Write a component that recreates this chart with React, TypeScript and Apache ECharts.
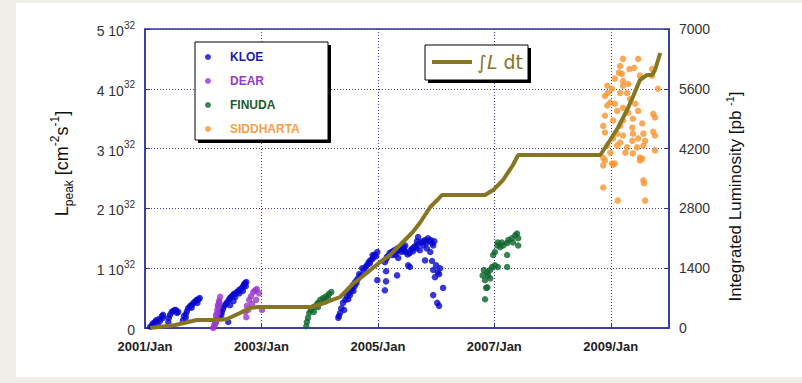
import React, { useEffect, useRef } from "react";
import * as echarts from "echarts";

// ---------- data ----------
const T0 = 2001; // x axis origin (year)
const xTickYears = [2001, 2003, 2005, 2007, 2009];
const leftTicks = [0, 1, 2, 3, 4, 5]; // units of 10^32 cm^-2 s^-1
const rightTicks = [0, 1400, 2800, 4200, 5600, 7000]; // pb^-1

// [decimal year, peak luminosity in 10^32]
const kloe: [number, number][] = [
  [2001.09, 0.02], [2001.12, 0.05], [2001.14, 0.08], [2001.17, 0.1], [2001.19, 0.13], [2001.22, 0.05],
  [2001.24, 0.15], [2001.26, 0.12], [2001.29, 0.2], [2001.31, 0.17], [2001.31, 0.22],
  [2001.4, 0.1], [2001.41, 0.17], [2001.43, 0.22], [2001.46, 0.27], [2001.48, 0.28], [2001.51, 0.3],
  [2001.53, 0.3], [2001.55, 0.25], [2001.57, 0.27],
  [2001.65, 0.13], [2001.67, 0.2], [2001.7, 0.23], [2001.72, 0.28], [2001.74, 0.33], [2001.77, 0.36],
  [2001.79, 0.38], [2001.82, 0.4], [2001.84, 0.43], [2001.87, 0.45], [2001.89, 0.47], [2001.92, 0.48],
  [2001.94, 0.5], [2001.7, 0.17], [2001.8, 0.34], [2001.9, 0.42],
  [2002.29, 0.17], [2002.31, 0.22], [2002.32, 0.27], [2002.34, 0.32], [2002.36, 0.37], [2002.39, 0.4],
  [2002.41, 0.43], [2002.44, 0.47], [2002.46, 0.5], [2002.48, 0.52], [2002.51, 0.55], [2002.53, 0.57],
  [2002.56, 0.58], [2002.58, 0.6], [2002.61, 0.63], [2002.64, 0.65], [2002.67, 0.67], [2002.69, 0.7],
  [2002.7, 0.73], [2002.72, 0.75], [2002.74, 0.77], [2002.46, 0.38], [2002.43, 0.1], [2002.52, 0.45],
  [2002.55, 0.52], [2002.62, 0.58], [2002.68, 0.62], [2002.73, 0.7],
  [2004.32, 0.17], [2004.33, 0.2], [2004.35, 0.25], [2004.37, 0.33], [2004.4, 0.42], [2004.42, 0.3],
  [2004.44, 0.47], [2004.47, 0.53], [2004.49, 0.48], [2004.5, 0.58], [2004.54, 0.63], [2004.56, 0.67],
  [2004.57, 0.72], [2004.61, 0.77], [2004.64, 0.8], [2004.66, 0.83], [2004.71, 0.88], [2004.73, 1.0],
  [2004.76, 0.97], [2004.79, 1.02], [2004.81, 1.05], [2004.84, 1.1], [2004.87, 1.13], [2004.9, 1.15],
  [2004.92, 1.18], [2004.95, 1.23], [2004.99, 1.27], [2004.68, 0.9], [2004.6, 0.7], [2004.99, 0.8],
  [2004.86, 1.08], [2004.91, 1.22], [2004.97, 1.2], [2004.52, 0.55], [2004.58, 0.62], [2004.63, 0.75],
  [2005.12, 1.1], [2005.14, 1.15], [2005.17, 1.2], [2005.2, 1.25], [2005.23, 1.27], [2005.26, 1.28],
  [2005.28, 1.3], [2005.3, 1.22], [2005.33, 1.33], [2005.35, 1.17], [2005.36, 1.3], [2005.38, 1.35],
  [2005.41, 1.32], [2005.43, 1.3], [2005.46, 1.28], [2005.47, 1.38], [2005.48, 1.27], [2005.51, 1.23],
  [2005.54, 1.25], [2005.56, 1.3], [2005.59, 1.33], [2005.62, 1.35], [2005.64, 1.37], [2005.66, 1.33],
  [2005.69, 1.4], [2005.69, 1.52], [2005.72, 1.3], [2005.74, 1.43], [2005.77, 1.45], [2005.81, 1.47],
  [2005.84, 1.33], [2005.86, 1.5], [2005.88, 1.45], [2005.9, 1.27], [2005.91, 1.47], [2005.93, 1.42],
  [2005.95, 1.38], [2005.15, 1.18], [2005.25, 1.22], [2005.32, 1.27], [2005.4, 1.27], [2005.45, 1.35],
  [2005.6, 1.28], [2005.67, 1.45], [2005.78, 1.38], [2005.83, 1.42], [2005.97, 1.45],
  [2005.14, 0.95], [2005.14, 0.78], [2005.12, 0.63], [2005.33, 0.88], [2005.52, 1.05], [2005.55, 1.02],
  [2005.81, 1.13], [2005.93, 1.12], [2005.95, 0.97], [2005.98, 0.85], [2006.0, 1.05], [2006.03, 0.93],
  [2006.07, 1.0], [2006.05, 0.9], [2006.12, 0.67], [2005.95, 0.55], [2006.02, 0.42], [2006.05, 0.37],
];

const dear: [number, number][] = [
  [2002.17, 0.0], [2002.19, 0.05], [2002.2, 0.13], [2002.22, 0.22], [2002.24, 0.3], [2002.25, 0.38],
  [2002.27, 0.45], [2002.29, 0.52], [2002.22, 0.1], [2002.25, 0.25], [2002.19, 0.02], [2002.21, 0.08],
  [2002.23, 0.18], [2002.26, 0.35], [2002.28, 0.42],
  [2002.72, 0.27], [2002.75, 0.37], [2002.79, 0.47], [2002.82, 0.53], [2002.86, 0.6], [2002.89, 0.63],
  [2002.92, 0.65], [2002.96, 0.58], [2002.91, 0.47], [2003.01, 0.3], [2002.84, 0.4], [2002.77, 0.3],
  [2002.74, 0.18],
];

const finuda: [number, number][] = [
  [2003.77, 0.03], [2003.78, 0.1], [2003.8, 0.17], [2003.82, 0.25], [2003.85, 0.3], [2003.89, 0.35],
  [2003.94, 0.38], [2003.97, 0.42], [2004.01, 0.47], [2004.06, 0.5], [2004.11, 0.53], [2004.16, 0.57],
  [2004.2, 0.6], [2003.97, 0.35], [2003.9, 0.27], [2004.08, 0.45], [2004.14, 0.5],
  [2006.84, 0.48], [2006.86, 0.67], [2006.88, 0.68], [2006.84, 0.8], [2006.82, 0.97], [2006.88, 0.93],
  [2006.89, 0.88], [2006.93, 0.97], [2006.96, 1.02], [2007.01, 1.05], [2007.06, 1.02], [2007.22, 1.02],
  [2006.98, 1.22], [2007.01, 1.27], [2007.05, 1.38], [2007.06, 1.43], [2007.13, 1.43], [2007.22, 1.42],
  [2007.22, 1.22], [2007.24, 1.47], [2007.3, 1.5], [2007.36, 1.55], [2007.39, 1.58], [2007.41, 1.5],
  [2007.41, 1.38], [2007.32, 1.43], [2007.15, 1.38], [2007.1, 1.35], [2006.8, 0.88], [2006.93, 0.83],
];

const siddharta: [number, number][] = [
  [2009.21, 4.5], [2009.47, 4.5], [2009.16, 4.38], [2009.32, 4.33], [2009.4, 4.35], [2009.14, 4.27],
  [2009.19, 4.25], [2009.71, 4.33], [2009.07, 4.17], [2009.21, 4.13], [2009.5, 4.22], [2009.71, 4.22],
  [2008.94, 4.05], [2009.02, 4.0], [2009.16, 3.93], [2009.28, 3.93], [2008.95, 3.93], [2009.33, 3.83],
  [2009.81, 4.0], [2008.9, 3.88], [2009.07, 3.75], [2009.21, 3.68], [2008.94, 3.72], [2009.11, 3.63],
  [2009.3, 3.6], [2009.47, 3.63], [2008.9, 3.55], [2009.04, 3.47], [2009.21, 3.47], [2009.38, 3.5],
  [2009.73, 3.58], [2009.76, 3.52], [2008.87, 3.38], [2009.16, 3.38], [2009.37, 3.35], [2009.54, 3.42],
  [2008.9, 3.27], [2009.11, 3.25], [2009.21, 3.22], [2009.38, 3.25], [2009.56, 3.25], [2009.73, 3.28],
  [2009.76, 3.22], [2009.04, 3.17], [2009.16, 3.1], [2009.37, 3.13], [2009.47, 3.17], [2009.59, 3.13],
  [2008.94, 3.05], [2009.11, 3.05], [2009.28, 3.02], [2009.45, 3.02], [2009.56, 3.05], [2009.76, 2.97],
  [2009.25, 2.93], [2009.38, 2.92], [2009.5, 2.85], [2008.99, 2.93], [2008.87, 2.85], [2008.9, 2.8],
  [2009.07, 2.75], [2009.5, 2.8], [2009.54, 2.83], [2008.87, 2.72], [2009.02, 2.75], [2009.04, 2.73],
  [2009.56, 2.47], [2009.57, 2.42], [2008.87, 2.35], [2009.12, 2.13], [2009.59, 2.13], [2009.21, 4.05],
  [2009.3, 4.08], [2008.99, 3.77], [2009.42, 3.75],
];

// [decimal year, integrated luminosity in pb^-1]
const intLumi: [number, number][] = [
  [2001.09, 0], [2001.52, 70], [2001.89, 187], [2002.25, 187], [2002.41, 211], [2002.63, 351],
  [2002.8, 468], [2002.94, 492], [2003.87, 492], [2004.13, 609], [2004.35, 726], [2004.57, 1030],
  [2004.81, 1288], [2005.04, 1545], [2005.21, 1709], [2005.38, 1943], [2005.6, 2247], [2005.72, 2458],
  [2005.9, 2833], [2006.02, 2996], [2006.1, 3114], [2006.84, 3114], [2006.98, 3230], [2007.15, 3465],
  [2007.32, 3816], [2007.41, 4050], [2008.82, 4050], [2008.99, 4401], [2009.13, 4705], [2009.28, 5103],
  [2009.38, 5408], [2009.5, 5806], [2009.62, 5923], [2009.71, 5923], [2009.76, 6040], [2009.85, 6438],
];

// ---------- styles ----------
const FONT = "'Liberation Sans', Arial, sans-serif";
const AXIS = "#34349a";
const GRID = "#3c3ca8";
const C_KLOE = "#0606d0";
const C_DEAR = "#9a36cf";
const C_FINUDA = "#0b6428";
const C_SIDD = "#f7952f";
const C_LINE = "#85761f";
const LEG2_FONT = "'DejaVu Sans', sans-serif";

const toX = (d: [number, number][]) => d.map(([y, v]) => [y - T0, v]);

const scatter = (name: string, data: [number, number][], color: string) => ({
  type: "scatter",
  name,
  data: toX(data),
  symbolSize: 6.5,
  itemStyle: { color },
  z: 2,
});

export default function App() {
  const ref = useRef<HTMLDivElement>(null);
  useEffect(() => {
    if (!ref.current) return;
    const chart = echarts.init(ref.current, undefined, { renderer: "svg" });
    const option: any = {
      animation: false,
      textStyle: { fontFamily: FONT },
      grid: {
        left: 145,
        right: 133,
        top: 29,
        bottom: 55,
        show: true,
        borderColor: AXIS,
        borderWidth: 1.5,
      },
      xAxis: {
        type: "value",
        min: 0,
        max: xTickYears[xTickYears.length - 1] + 1 - T0,
        interval: xTickYears[1] - xTickYears[0],
        axisLine: { show: true, lineStyle: { color: AXIS, width: 1.5 } },
        axisTick: { show: true, inside: true, length: 5, lineStyle: { color: AXIS } },
        splitLine: { show: true, lineStyle: { type: [1, 2], color: GRID, width: 1 } },
        axisLabel: {
          margin: 12,
          fontSize: 13,
          fontWeight: "bold",
          color: "#222",
          fontFamily: FONT,
          formatter: (v: number) => (xTickYears.includes(T0 + v) ? `${T0 + v}/Jan` : ""),
        },
      },
      yAxis: [
        {
          type: "value",
          position: "left",
          min: leftTicks[0],
          max: leftTicks[leftTicks.length - 1],
          interval: leftTicks[1] - leftTicks[0],
          axisLine: { show: true, lineStyle: { color: AXIS, width: 1.5 } },
          axisTick: { show: true, inside: true, length: 5, lineStyle: { color: AXIS } },
          splitLine: { show: true, lineStyle: { type: [1, 2], color: GRID, width: 1 } },
          axisLabel: {
            margin: 10,
            color: "#333",
            fontSize: 14,
            fontFamily: FONT,
            formatter: (v: number) => (v === 0 ? "{n|0}" : `{n|${v} 10}{s|32}`),
            rich: {
              n: { fontSize: 14, lineHeight: 18, verticalAlign: "bottom", color: "#333", fontFamily: FONT },
              s: { fontSize: 10, lineHeight: 10, verticalAlign: "top", color: "#333", fontFamily: FONT },
            },
          },
          name: "{m|L}{sub|peak}{m| [cm}{sup|-2}{m|s}{sup|-1}{m|]}",
          nameLocation: "middle",
          nameGap: 70,
          nameTextStyle: {
            padding: [0, 0, 0, 30],
            rich: {
              m: { fontSize: 18, lineHeight: 26, verticalAlign: "middle", color: "#111", fontFamily: FONT },
              sub: { fontSize: 12, lineHeight: 12, verticalAlign: "bottom", color: "#111", fontFamily: FONT },
              sup: { fontSize: 12, lineHeight: 12, verticalAlign: "top", color: "#111", fontFamily: FONT },
            },
          },
        },
        {
          type: "value",
          position: "right",
          min: rightTicks[0],
          max: rightTicks[rightTicks.length - 1],
          interval: rightTicks[1] - rightTicks[0],
          axisLine: { show: true, lineStyle: { color: AXIS, width: 1.5 } },
          axisTick: { show: true, inside: true, length: 5, lineStyle: { color: AXIS } },
          splitLine: { show: false },
          axisLabel: {
            margin: 10,
            color: "#333",
            fontSize: 14,
            fontFamily: FONT,
            formatter: (v: number) => String(v),
          },
          name: "{m|Integrated Luminosity [pb }{sup|-1}{m|]}",
          nameLocation: "middle",
          nameGap: 55,
          nameTextStyle: {
            padding: [0, 36, 0, 0],
            rich: {
              m: { fontSize: 17, lineHeight: 22, verticalAlign: "middle", color: "#111", fontFamily: FONT },
              sup: { fontSize: 11, lineHeight: 11, verticalAlign: "top", color: "#111", fontFamily: FONT },
            },
          },
        },
      ],
      legend: [
        {
          left: 205,
          top: 50,
          orient: "vertical",
          padding: 0,
          itemGap: 10,
          itemWidth: 34,
          itemHeight: 6,
          icon: "circle",
          selectedMode: false,
          textStyle: { fontSize: 12, fontWeight: "bold", lineHeight: 14, fontFamily: FONT },
          data: [
            { name: "KLOE", textStyle: { color: "#1e1ea6" } },
            { name: "DEAR", textStyle: { color: "#9a3acc" } },
            { name: "FINUDA", textStyle: { color: "#1d5a2c" } },
            { name: "SIDDHARTA", textStyle: { color: "#f6a04e" } },
          ],
          z: 6,
        },
        {
          left: 432,
          top: 51,
          orient: "vertical",
          padding: 0,
          itemWidth: 40,
          itemHeight: 4,
          icon: "rect",
          selectedMode: false,
          formatter: () => "{a|∫}{i|L}{a| dt}",
          textStyle: {
            color: C_LINE,
            fontSize: 19,
            lineHeight: 22,
            fontFamily: LEG2_FONT,
            rich: {
              a: { color: C_LINE, fontSize: 19, fontFamily: LEG2_FONT },
              i: { color: C_LINE, fontSize: 19, fontStyle: "italic", fontFamily: LEG2_FONT },
            },
          },
          data: ["∫L dt"],
          z: 6,
        },
      ],
      graphic: [
        { type: "rect", z: 5, shape: { x: 198, y: 45, width: 133, height: 98 }, style: { fill: "#000" } },
        { type: "rect", z: 5, shape: { x: 195, y: 42, width: 133, height: 98 }, style: { fill: "#fff", stroke: "#000", lineWidth: 1 } },
        { type: "rect", z: 5, shape: { x: 428, y: 48, width: 103, height: 35 }, style: { fill: "#000" } },
        { type: "rect", z: 5, shape: { x: 425, y: 45, width: 103, height: 35 }, style: { fill: "#fff", stroke: "#000", lineWidth: 1 } },
      ],
      series: [
        scatter("KLOE", kloe, C_KLOE),
        scatter("DEAR", dear, C_DEAR),
        scatter("FINUDA", finuda, C_FINUDA),
        scatter("SIDDHARTA", siddharta, C_SIDD),
        {
          type: "line",
          name: "∫L dt",
          yAxisIndex: 1,
          data: toX(intLumi),
          showSymbol: false,
          symbol: "none",
          itemStyle: { color: C_LINE },
          lineStyle: { color: C_LINE, width: 4 },
          z: 3,
        },
      ],
    };
    chart.setOption(option);
    return () => chart.dispose();
  }, []);

  return (
    <div style={{ position: "fixed", left: 0, top: 0, width: 802, height: 383, background: "#efeee8" }}>
      <div style={{ position: "absolute", left: 16, top: 3, width: 786, height: 374, background: "#fff" }} />
      <div ref={ref} style={{ position: "absolute", left: 0, top: 0, width: 802, height: 383 }} />
    </div>
  );
}
